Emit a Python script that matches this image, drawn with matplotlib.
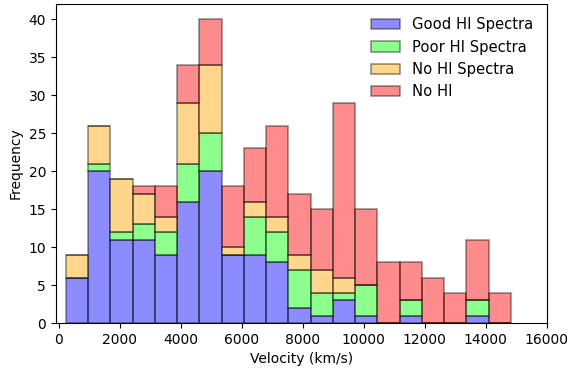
import numpy as np
import matplotlib
matplotlib.use("Agg")
import matplotlib.pyplot as plt

# bin edges (km/s)
bin_start = 230
bin_stop = 14830
n_bins = 20

# counts per bin for each class
good_hi = [6, 20, 11, 11, 9, 16, 20, 9, 9, 8, 2, 1, 3, 1, 0, 1, 0, 0, 1, 0]
poor_hi = [0, 1, 1, 2, 3, 5, 5, 0, 5, 4, 5, 3, 1, 4, 0, 2, 0, 0, 2, 0]
no_spec = [3, 5, 7, 4, 2, 8, 9, 1, 2, 2, 2, 3, 2, 0, 0, 0, 0, 0, 0, 0]
no_hi = [0, 0, 0, 1, 4, 5, 6, 8, 7, 12, 8, 8, 23, 10, 8, 5, 6, 4, 8, 4]

labels = ["Good HI Spectra", "Poor HI Spectra", "No HI Spectra", "No HI"]
colors = ["blue", "lime", "orange", "red"]

edges = np.linspace(bin_start, bin_stop, n_bins + 1)
centers = 0.5 * (edges[:-1] + edges[1:])

fig, ax = plt.subplots(figsize=(5.7, 3.71), dpi=100)
ax.hist([centers] * 4, bins=edges, weights=[good_hi, poor_hi, no_spec, no_hi],
        stacked=True, color=colors, alpha=0.45, edgecolor="black",
        linewidth=1.1, label=labels)

ax.set_xlim(-100, 16000)
ax.set_ylim(0, 42)
ax.set_xlabel("Velocity (km/s)")
ax.set_ylabel("Frequency")
ax.legend(loc="upper right", frameon=False, fontsize=10.6)

fig.subplots_adjust(left=0.098, right=0.959, top=0.989, bottom=0.129)
fig.savefig("out.png")
